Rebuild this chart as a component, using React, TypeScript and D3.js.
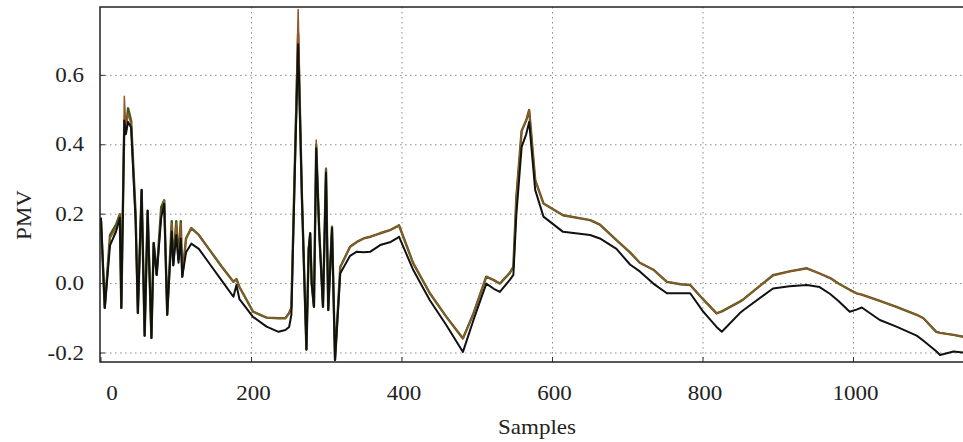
import React from "react";
import * as d3 from "d3";

const samples = [0, 5, 12, 20, 25, 27, 31, 33, 36, 40, 46, 49, 54, 58, 62, 67, 70, 74, 80, 84, 88, 94, 96, 100, 103, 106, 108, 113, 120, 130, 145, 160, 176, 180, 184, 202, 220, 236, 245, 250, 253, 258, 262, 267, 273, 276, 278, 280, 283, 286, 290, 295, 299, 302, 307, 311, 318, 331, 340, 349, 358, 371, 385, 393, 396, 415, 437, 459, 481, 495, 512, 522, 530, 543, 548, 552, 559, 565, 569, 577, 588, 614, 650, 663, 685, 703, 716, 734, 752, 770, 783, 800, 818, 825, 849, 854, 893, 915, 938, 955, 969, 980, 995, 1004, 1011, 1035, 1057, 1084, 1093, 1110, 1115, 1133, 1150];

const redSeries = [0.18, -0.07, 0.13, 0.16, 0.2, -0.07, 0.54, 0.45, 0.49, 0.46, 0.2, -0.085, 0.27, -0.15, 0.21, -0.157, 0.117, 0.025, 0.2, 0.24, -0.09, 0.174, 0.053, 0.174, 0.07, 0.174, 0.02, 0.13, 0.16, 0.14, 0.095, 0.05, 0.005, 0.013, -0.01, -0.081, -0.098, -0.1, -0.1, -0.085, -0.07, 0.4, 0.79, 0.25, -0.19, 0.1, 0.145, 0.0, -0.067, 0.414, 0.15, -0.067, 0.333, -0.076, 0.164, -0.22, 0.048, 0.106, 0.12, 0.13, 0.135, 0.145, 0.155, 0.164, 0.168, 0.058, -0.028, -0.096, -0.158, -0.086, 0.02, 0.01, 0.0, 0.03, 0.048, 0.25, 0.44, 0.47, 0.5, 0.298, 0.231, 0.197, 0.183, 0.17, 0.125, 0.09, 0.06, 0.04, 0.005, -0.002, -0.004, -0.045, -0.086, -0.08, -0.052, -0.045, 0.024, 0.035, 0.044, 0.029, 0.016, 0.0, -0.018, -0.028, -0.032, -0.05, -0.067, -0.09, -0.1, -0.139, -0.142, -0.148, -0.155];

const greenSeries = [0.18, -0.07, 0.14, 0.17, 0.2, -0.07, 0.47, 0.44, 0.505, 0.47, 0.2, -0.085, 0.27, -0.15, 0.21, -0.157, 0.117, 0.025, 0.22, 0.24, -0.09, 0.18, 0.053, 0.18, 0.07, 0.18, 0.02, 0.13, 0.16, 0.14, 0.095, 0.05, 0.005, 0.013, -0.01, -0.081, -0.098, -0.1, -0.1, -0.085, -0.07, 0.38, 0.72, 0.25, -0.19, 0.1, 0.145, 0.0, -0.067, 0.4, 0.15, -0.067, 0.33, -0.076, 0.164, -0.22, 0.048, 0.106, 0.12, 0.13, 0.135, 0.145, 0.155, 0.164, 0.168, 0.058, -0.028, -0.096, -0.158, -0.086, 0.02, 0.01, 0.0, 0.03, 0.048, 0.25, 0.44, 0.47, 0.5, 0.298, 0.231, 0.197, 0.183, 0.17, 0.125, 0.09, 0.06, 0.04, 0.005, -0.002, -0.004, -0.045, -0.086, -0.08, -0.052, -0.045, 0.024, 0.035, 0.044, 0.029, 0.016, 0.0, -0.018, -0.028, -0.032, -0.05, -0.067, -0.09, -0.1, -0.139, -0.142, -0.148, -0.155];

const blackSeries = [0.19, -0.07, 0.11, 0.15, 0.19, -0.07, 0.47, 0.43, 0.466, 0.45, 0.18, -0.085, 0.27, -0.15, 0.21, -0.157, 0.117, 0.025, 0.19, 0.23, -0.09, 0.15, 0.053, 0.14, 0.06, 0.13, 0.02, 0.09, 0.115, 0.1, 0.055, 0.01, -0.038, -0.004, -0.045, -0.096, -0.124, -0.139, -0.134, -0.125, -0.09, 0.36, 0.69, 0.25, -0.19, 0.1, 0.145, 0.0, -0.067, 0.39, 0.15, -0.067, 0.32, -0.076, 0.16, -0.22, 0.03, 0.08, 0.092, 0.09, 0.092, 0.111, 0.12, 0.13, 0.135, 0.039, -0.048, -0.12, -0.197, -0.105, 0.0, -0.015, -0.024, 0.01, 0.025, 0.2, 0.394, 0.43, 0.466, 0.27, 0.193, 0.149, 0.14, 0.13, 0.1, 0.055, 0.035, 0.0, -0.028, -0.028, -0.028, -0.08, -0.125, -0.139, -0.085, -0.076, -0.014, -0.008, -0.004, -0.01, -0.03, -0.05, -0.081, -0.075, -0.069, -0.105, -0.124, -0.15, -0.165, -0.195, -0.206, -0.196, -0.2];

const xTicks = [0, 200, 400, 600, 800, 1000];
const yTicks = [-0.2, 0.0, 0.2, 0.4, 0.6];
const yTickLabels = ["-0.2", "0.0", "0.2", "0.4", "0.6"];
const xLabel = "Samples";
const yLabel = "PMV";

export default function App() {
  const W = 963;
  const H = 442;
  const left = 100;
  const top = 7;
  const bottom = 362;
  const right = 975;

  const x = d3.scaleLinear().domain([0, 1150]).range([101, 101 + 1150 * 0.7525]);
  const y = d3.scaleLinear().domain([-0.226, 0.797]).range([bottom, top]);

  const mk = (vals: number[]) =>
    d3
      .line<number>()
      .x((_, i) => x(samples[i]))
      .y((v) => y(v))(vals) || "";

  const textStyle: React.CSSProperties = {
    fontFamily: '"Liberation Serif", "Times New Roman", "DejaVu Serif", serif',
    fontSize: "20px",
  };
  const sx = 1.15;

  return (
    <svg
      width={W}
      height={H}
      style={{ position: "absolute", left: 0, top: 0, background: "#fff" }}
    >
      <defs>
        <clipPath id="plot">
          <rect x={left} y={top} width={right - left} height={bottom - top} />
        </clipPath>
      </defs>
      {xTicks.filter((t) => t > 0).map((t) => (
        <line key={"gx" + t} x1={x(t)} x2={x(t)} y1={top} y2={bottom} stroke="#8a8a8a" strokeWidth={1} strokeDasharray="1.5,3.5" />
      ))}
      {yTicks.map((t) => (
        <line key={"gy" + t} x1={left} x2={right} y1={y(t)} y2={y(t)} stroke="#8a8a8a" strokeWidth={1} strokeDasharray="1.5,3.5" />
      ))}
      {xTicks.map((t) => (
        <line key={"tx" + t} x1={x(t)} x2={x(t)} y1={bottom} y2={bottom - 5} stroke="#333" strokeWidth={1} />
      ))}
      {yTicks.map((t) => (
        <line key={"ty" + t} x1={left} x2={left + 5} y1={y(t)} y2={y(t)} stroke="#333" strokeWidth={1} />
      ))}
      <g clipPath="url(#plot)" fill="none" strokeLinejoin="round">
        <path d={mk(greenSeries)} stroke="#3c5a18" strokeWidth={2.4} />
        <path d={mk(redSeries)} stroke="#94582a" strokeWidth={1.5} />
        <path d={mk(blackSeries)} stroke="#111" strokeWidth={2} />
      </g>
      <path d={`M${right},${top}H${left}V${bottom}H${right}`} fill="none" stroke="#222" strokeWidth={1.5} />
      {yTicks.map((t, i) => (
        <text key={"ly" + t} transform={`translate(84,${y(t)}) scale(${sx},1)`} textAnchor="end" dy="0.33em" style={textStyle} fill="#222">
          {yTickLabels[i]}
        </text>
      ))}
      {xTicks.map((t) => (
        <text key={"lx" + t} transform={`translate(${x(t) + (t === 0 ? 11 : 2)},400) scale(${sx},1)`} textAnchor="middle" style={textStyle} fill="#222">
          {t}
        </text>
      ))}
      <text transform={`translate(537,434) scale(${sx},1)`} textAnchor="middle" style={textStyle} fill="#222">
        {xLabel}
      </text>
      <text transform={`translate(31,215) rotate(-90) scale(${sx},1)`} textAnchor="middle" style={textStyle} fill="#222">
        {yLabel}
      </text>
    </svg>
  );
}
